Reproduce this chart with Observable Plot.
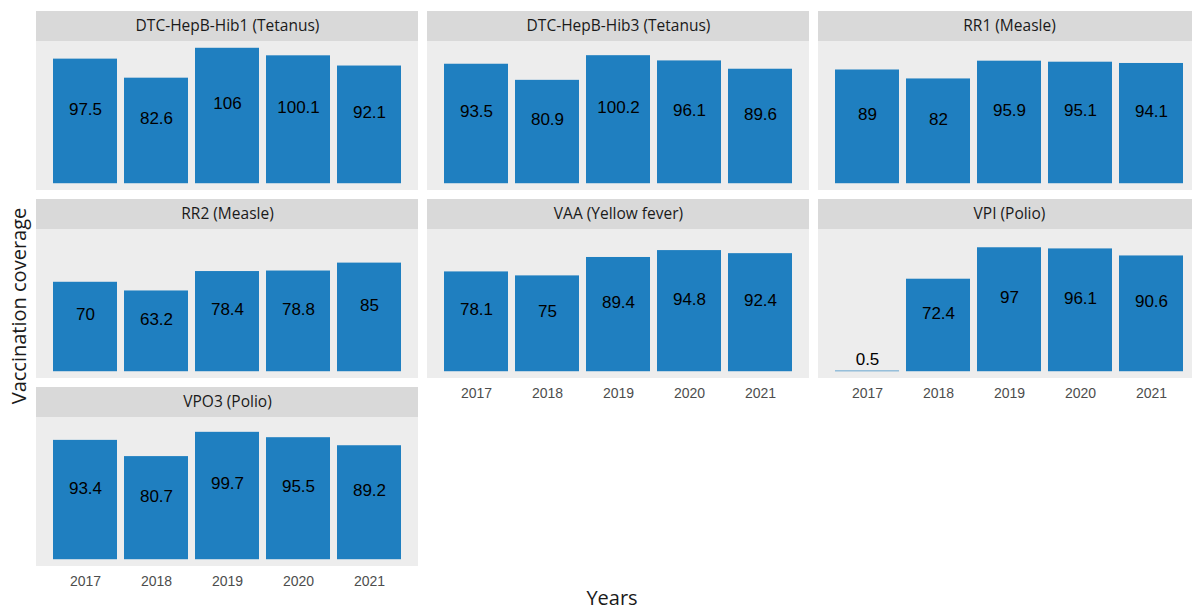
<!DOCTYPE html>
<html>
<head>
<meta charset="utf-8">
<script src="https://cdn.jsdelivr.net/npm/d3@7"></script>
<script src="https://cdn.jsdelivr.net/npm/@observablehq/plot@0.6"></script>
<style>
html, body { margin: 0; padding: 0; background: #fff; overflow: hidden; width: 1192px; height: 612px; }
#chart { position: relative; width: 1192px; height: 612px; overflow: hidden; }
#chart svg { max-width: none !important; display: block; }
</style>
</head>
<body>
<div id="chart"></div>
<script>
// ---- data ----
const vaccines = [
  "DTC-HepB-Hib1 (Tetanus)",
  "DTC-HepB-Hib3 (Tetanus)",
  "RR1 (Measle)",
  "RR2 (Measle)",
  "VAA (Yellow fever)",
  "VPI (Polio)",
  "VPO3 (Polio)"
];
const years = ["2017", "2018", "2019", "2020", "2021"];
const dtcHepBHib1 = [97.5, 82.6, 106, 100.1, 92.1];
const dtcHepBHib3 = [93.5, 80.9, 100.2, 96.1, 89.6];
const rr1 = [89, 82, 95.9, 95.1, 94.1];
const rr2 = [70, 63.2, 78.4, 78.8, 85];
const vaa = [78.1, 75, 89.4, 94.8, 92.4];
const vpi = [0.5, 72.4, 97, 96.1, 90.6];
const vpo3 = [93.4, 80.7, 99.7, 95.5, 89.2];
const seriesValues = [dtcHepBHib1, dtcHepBHib3, rr1, rr2, vaa, vpi, vpo3];

// ---- tables built for Plot ----
const panels = vaccines.map((name, i) => ({name, col: i % 3, row: Math.floor(i / 3)}));
const rows = [];
vaccines.forEach((name, i) => {
  seriesValues[i].forEach((v, j) => {
    rows.push({name, col: i % 3, row: Math.floor(i / 3), year: years[j], value: v});
  });
});

// fixed y scale shared by all panels (ggplot-like 5% expansion)
const maxV = d3.max(rows, d => d.value);
const lo = -0.05 * maxV;
const hi = maxV * 1.05;
const panelPx = 149, stripPx = 30;
const stripTop = hi + stripPx * (hi - lo) / panelPx;
const stripMid = (hi + stripTop) / 2;

const W = 1201, H = 612;
const plot = Plot.plot({
  width: W,
  height: H,
  marginLeft: 35,
  marginRight: 0,
  marginTop: 11,
  marginBottom: H - 566,
  style: {fontFamily: "Liberation Sans, Arial, sans-serif", background: "#ffffff"},
  fx: {domain: [0, 1, 2], paddingInner: 9.5 / 391.5, paddingOuter: 0, axis: null},
  fy: {domain: [0, 1, 2], paddingInner: 9 / 188, paddingOuter: 0, axis: null},
  x: {domain: years, paddingInner: 0.1, paddingOuter: 0.24, label: null},
  y: {domain: [lo, stripTop], axis: null},
  marks: [
    Plot.rect(panels, {fx: "col", fy: "row", y1: () => lo, y2: () => hi, fill: "#ededed"}),
    Plot.rect(panels, {fx: "col", fy: "row", y1: () => hi, y2: () => stripTop, fill: "#d9d9d9"}),
    Plot.text(panels, {
      fx: "col", fy: "row", y: () => stripMid, text: "name",
      fontFamily: "Open Sans, Noto Sans, sans-serif", fontSize: 15.5, fill: "#1a1a1a"
    }),
    Plot.barY(rows, {fx: "col", fy: "row", x: "year", y: "value", fill: "#1f7fc0"}),
    Plot.text(rows, {
      fx: "col", fy: "row", x: "year", y: d => d.value / 2, text: d => String(d.value),
      dy: -12, fontSize: 17, fill: "#000000", fontFamily: "Liberation Sans, Arial, sans-serif"
    }),
    Plot.axisX({
      facetAnchor: "bottom-empty", tickSize: 0, tickPadding: 10, fontSize: 14,
      color: "#4d4d4d", label: null
    })
  ]
});

const svg = d3.select(plot);
svg.append("text")
  .attr("x", 612).attr("y", 605)
  .attr("text-anchor", "middle")
  .attr("font-family", "Open Sans, Noto Sans, sans-serif")
  .attr("font-size", 20)
  .attr("fill", "#1a1a1a")
  .text("Years");
svg.append("text")
  .attr("transform", "translate(26,306) rotate(-90)")
  .attr("text-anchor", "middle")
  .attr("font-family", "Open Sans, Noto Sans, sans-serif")
  .attr("font-size", 20)
  .attr("fill", "#1a1a1a")
  .text("Vaccination coverage");

document.getElementById("chart").appendChild(plot);
</script>
</body>
</html>
